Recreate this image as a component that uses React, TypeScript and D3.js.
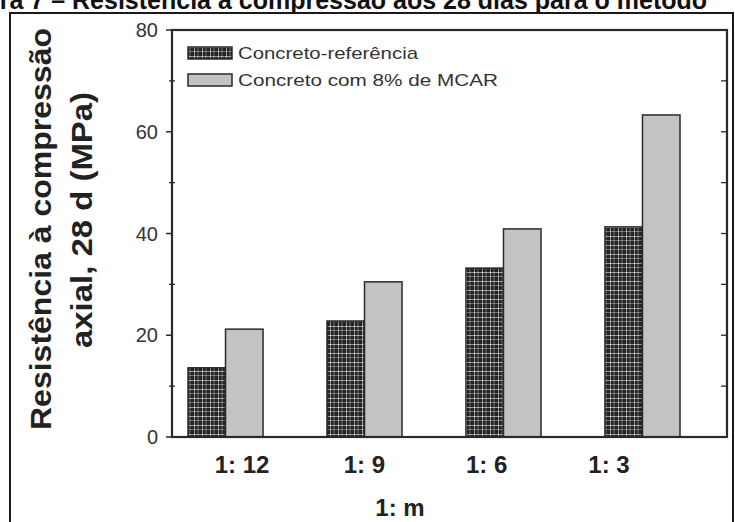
import * as d3 from 'd3';

const categories = ['1: 12', '1: 9', '1: 6', '1: 3'];
const seriesNames = ['Concreto-referência', 'Concreto com 8% de MCAR'];
const referencia = [13.6, 22.8, 33.2, 41.3];
const mcar = [21.2, 30.5, 40.9, 63.3];
const yMajor = [0, 20, 40, 60, 80];
const yMinor = [10, 30, 50, 70];

const W = 735;
const H = 522;
const plot = { left: 172, right: 727, top: 30, bottom: 437 };
const FONT = 'Liberation Sans, Arial, sans-serif';

export default function App() {
  const y = d3.scaleLinear().domain([0, 80]).range([plot.bottom, plot.top]);
  // the bar groups and the tick labels are not aligned in the original figure
  const xGroup = d3.scaleBand<string>().domain(categories).range([188, 680]).paddingInner(0.46).paddingOuter(0);
  const xSeries = d3.scaleBand<number>().domain([0, 1]).range([0, xGroup.bandwidth()]);
  const xLabel = d3.scalePoint<string>().domain(categories).range([242, 609]);
  const series = [referencia, mcar];
  const fills = ['url(#plaid)', '#c3c3c3'];

  return (
    <svg width={W} height={H} style={{ position: 'absolute', left: 0, top: 0, background: '#fff' }}>
      <defs>
        <pattern id="plaid" width="8" height="9" patternUnits="userSpaceOnUse">
          <rect width="8" height="9" fill="#222" />
          <line x1="2.5" y1="0" x2="2.5" y2="9" stroke="#fff" strokeOpacity="0.55" strokeWidth="1" />
          <line x1="6" y1="0" x2="6" y2="9" stroke="#fff" strokeOpacity="0.35" strokeWidth="1" />
          <line x1="0" y1="2.5" x2="8" y2="2.5" stroke="#fff" strokeOpacity="0.55" strokeWidth="1" />
          <line x1="0" y1="6.5" x2="8" y2="6.5" stroke="#fff" strokeOpacity="0.35" strokeWidth="1" />
        </pattern>
      </defs>

      {/* cropped caption */}
      <text x={-53} y={9} fontFamily={FONT} fontWeight="bold" fontSize={25} fill="#111">
        Figura 7 – Resistência à compressão aos 28 dias para o método
      </text>

      {/* figure frame */}
      <path d={`M10,${H + 2} V13 H733 V${H + 2}`} fill="none" stroke="#1a1a1a" strokeWidth={2} />

      {/* bars */}
      {categories.map((c, i) =>
        series.map((s, k) => (
          <rect
            key={`${c}-${k}`}
            x={(xGroup(c) ?? 0) + (xSeries(k) ?? 0)}
            y={y(s[i])}
            width={xSeries.bandwidth()}
            height={plot.bottom - y(s[i])}
            fill={fills[k]}
            stroke="#2a2a2a"
            strokeWidth={1.5}
          />
        ))
      )}

      {/* plot box */}
      <rect
        x={plot.left}
        y={plot.top}
        width={plot.right - plot.left}
        height={plot.bottom - plot.top}
        fill="none"
        stroke="#2a2a2a"
        strokeWidth={2.2}
      />

      {/* left ticks */}
      {yMajor.map((t) => (
        <g key={`l${t}`}>
          <line x1={plot.left - 6} x2={plot.left} y1={y(t)} y2={y(t)} stroke="#2a2a2a" strokeWidth={1.5} />
          <text
            x={158}
            y={y(t)}
            textAnchor="end"
            dominantBaseline="central"
            fontFamily={FONT}
            fontSize={20}
            fill="#333"
          >
            {t}
          </text>
        </g>
      ))}
      {yMinor.map((t) => (
        <line key={`m${t}`} x1={plot.left - 3} x2={plot.left + 3} y1={y(t)} y2={y(t)} stroke="#2a2a2a" strokeWidth={1.3} />
      ))}
      {/* right ticks, inward */}
      {[...yMajor, ...yMinor].map((t) => (
        <line key={`r${t}`} x1={plot.right - 6} x2={plot.right} y1={y(t)} y2={y(t)} stroke="#2a2a2a" strokeWidth={1.3} />
      ))}

      {/* x tick labels */}
      {categories.map((c) => (
        <text
          key={c}
          x={xLabel(c)}
          y={473}
          textAnchor="middle"
          fontFamily={FONT}
          fontWeight="bold"
          fontSize={24}
          fill="#222"
        >
          {c}
        </text>
      ))}
      <text x={400} y={516} textAnchor="middle" fontFamily={FONT} fontWeight="bold" fontSize={24} fill="#222">
        1: m
      </text>

      {/* y title */}
      <text
        transform="translate(51,229) rotate(-90)"
        textAnchor="middle"
        fontFamily={FONT}
        fontWeight="bold"
        fontSize={29}
        fill="#222"
        textLength={402}
        lengthAdjust="spacingAndGlyphs"
      >
        Resistência à compressão
      </text>
      <text
        transform="translate(92,220) rotate(-90)"
        textAnchor="middle"
        fontFamily={FONT}
        fontWeight="bold"
        fontSize={29}
        fill="#222"
        textLength={256}
        lengthAdjust="spacingAndGlyphs"
      >
        axial, 28 d (MPa)
      </text>

      {/* legend */}
      {seriesNames.map((n, k) => (
        <g key={n}>
          <rect x={188} y={47 + k * 27} width={44} height={12} fill={fills[k]} stroke="#2a2a2a" strokeWidth={1.5} />
          <text
            x={238}
            y={53 + k * 27}
            dominantBaseline="central"
            fontFamily={FONT}
            fontSize={17}
            fill="#333"
            textLength={k === 0 ? 180 : 260}
            lengthAdjust="spacingAndGlyphs"
          >
            {n}
          </text>
        </g>
      ))}
    </svg>
  );
}
